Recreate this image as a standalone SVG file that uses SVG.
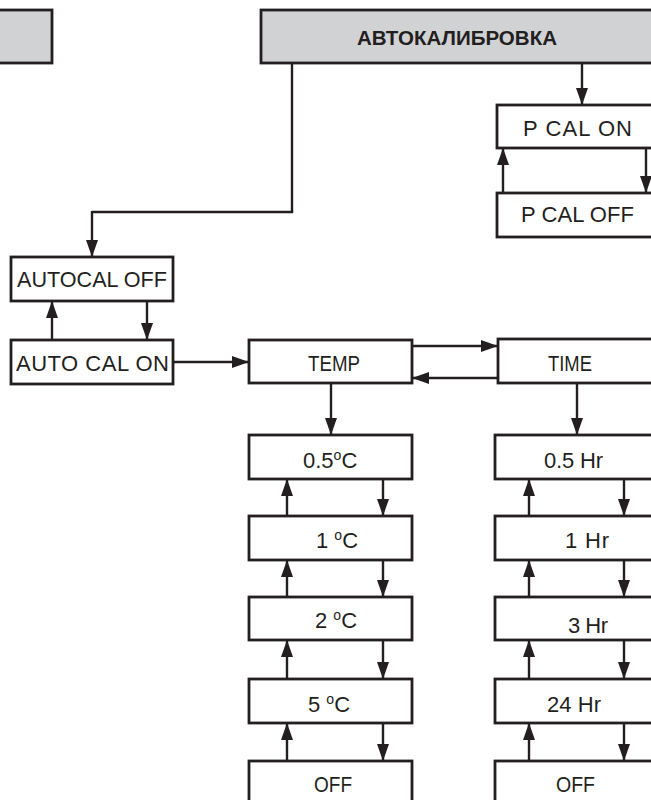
<svg xmlns="http://www.w3.org/2000/svg" width="651" height="800" viewBox="0 0 651 800">
<style>
.box{fill:#ffffff;stroke:#231f20;stroke-width:2.8}
.gray{fill:#d1d2d4;stroke:#231f20;stroke-width:2.8}
.ln{fill:none;stroke:#231f20;stroke-width:2.4;marker-end:url(#ah)}
.pl{fill:none;stroke:#231f20;stroke-width:2.4}
text{font-family:"Liberation Sans",Arial,sans-serif;font-size:22px;fill:#231f20}
.b{font-weight:bold;font-size:21px}
.deg{font-size:14px}
</style>
<defs>
<marker id="ah" markerUnits="userSpaceOnUse" markerWidth="19" markerHeight="13" refX="17" refY="6" orient="auto">
<path d="M0,0 L17,6 L0,12 z" fill="#231f20"/>
</marker>
</defs>
<g id="connectors">
<line class="pl" x1="292" y1="63" x2="292" y2="212"/>
<line class="pl" x1="293.2" y1="212" x2="92" y2="212"/>
<line class="ln" x1="92" y1="211" x2="92" y2="257"/>
<line class="ln" x1="582" y1="63" x2="582" y2="105"/>
<line class="ln" x1="503" y1="193" x2="503" y2="148"/>
<line class="ln" x1="646" y1="148" x2="646" y2="193"/>
<line class="ln" x1="52" y1="340" x2="52" y2="301"/>
<line class="ln" x1="147" y1="301" x2="147" y2="340"/>
<line class="ln" x1="173" y1="362" x2="249" y2="362"/>
<line class="ln" x1="412" y1="346" x2="498" y2="346"/>
<line class="ln" x1="498" y1="378" x2="412" y2="378"/>
<line class="ln" x1="331" y1="383" x2="331" y2="435"/>
<line class="ln" x1="577" y1="383" x2="577" y2="435"/>
<line class="ln" x1="287" y1="516" x2="287" y2="479"/>
<line class="ln" x1="383" y1="479" x2="383" y2="516"/>
<line class="ln" x1="287" y1="597" x2="287" y2="560"/>
<line class="ln" x1="383" y1="560" x2="383" y2="597"/>
<line class="ln" x1="287" y1="679" x2="287" y2="640"/>
<line class="ln" x1="383" y1="640" x2="383" y2="679"/>
<line class="ln" x1="287" y1="761" x2="287" y2="723"/>
<line class="ln" x1="383" y1="723" x2="383" y2="761"/>
<line class="ln" x1="529" y1="516" x2="529" y2="479"/>
<line class="ln" x1="624" y1="479" x2="624" y2="516"/>
<line class="ln" x1="529" y1="597" x2="529" y2="560"/>
<line class="ln" x1="624" y1="560" x2="624" y2="597"/>
<line class="ln" x1="529" y1="679" x2="529" y2="640"/>
<line class="ln" x1="624" y1="640" x2="624" y2="679"/>
<line class="ln" x1="529" y1="761" x2="529" y2="723"/>
<line class="ln" x1="624" y1="723" x2="624" y2="761"/>
</g>
<g id="node-left-header"><rect class="gray" x="-5" y="10" width="57" height="53"/></g>
<g id="node-autocal-header"><rect class="gray" x="261" y="10" width="400" height="53"/><text class="b" x="357" y="45" textLength="200" lengthAdjust="spacingAndGlyphs">АВТОКАЛИБРОВКА</text></g>
<g id="node-pcal-on"><rect class="box" x="497" y="105" width="160" height="43"/><text x="523" y="136" textLength="109">P CAL ON</text></g>
<g id="node-pcal-off"><rect class="box" x="497" y="193" width="160" height="44"/><text x="521" y="222" textLength="113">P CAL OFF</text></g>
<g id="node-autocal-off"><rect class="box" x="11" y="257" width="162" height="44"/><text x="17" y="287" textLength="150" lengthAdjust="spacingAndGlyphs">AUTOCAL OFF</text></g>
<g id="node-autocal-on"><rect class="box" x="11" y="340" width="162" height="44"/><text x="16" y="371" textLength="153">AUTO CAL ON</text></g>
<g id="node-temp"><rect class="box" x="249" y="340" width="163" height="43"/><text x="308" y="371" textLength="52" lengthAdjust="spacingAndGlyphs">TEMP</text></g>
<g id="node-time"><rect class="box" x="498" y="339" width="160" height="44"/><text x="548" y="371" textLength="44" lengthAdjust="spacingAndGlyphs">TIME</text></g>
<g id="node-t05"><rect class="box" x="249" y="435" width="163" height="44"/><text x="303" y="468">0.5<tspan class="deg" dy="-8">o</tspan><tspan dy="8">C</tspan></text></g>
<g id="node-t1"><rect class="box" x="249" y="516" width="163" height="44"/><text x="316" y="548">1 <tspan class="deg" dy="-8">o</tspan><tspan dy="8">C</tspan></text></g>
<g id="node-t2"><rect class="box" x="249" y="597" width="163" height="43"/><text x="315" y="628">2 <tspan class="deg" dy="-8">o</tspan><tspan dy="8">C</tspan></text></g>
<g id="node-t5"><rect class="box" x="249" y="679" width="163" height="44"/><text x="308" y="712">5 <tspan class="deg" dy="-8">o</tspan><tspan dy="8">C</tspan></text></g>
<g id="node-toff"><rect class="box" x="249" y="761" width="163" height="50"/><text x="314" y="792" textLength="38" lengthAdjust="spacingAndGlyphs">OFF</text></g>
<g id="node-h05"><rect class="box" x="495" y="435" width="165" height="44"/><text x="544" y="468" textLength="59">0.5 Hr</text></g>
<g id="node-h1"><rect class="box" x="495" y="516" width="165" height="44"/><text x="565" y="548" textLength="44">1 Hr</text></g>
<g id="node-h3"><rect class="box" x="495" y="597" width="165" height="43"/><text x="568" y="633" textLength="40">3 Hr</text></g>
<g id="node-h24"><rect class="box" x="495" y="679" width="165" height="44"/><text x="547" y="712" textLength="54">24 Hr</text></g>
<g id="node-hoff"><rect class="box" x="495" y="761" width="165" height="50"/><text x="556" y="792" textLength="39" lengthAdjust="spacingAndGlyphs">OFF</text></g>
</svg>
